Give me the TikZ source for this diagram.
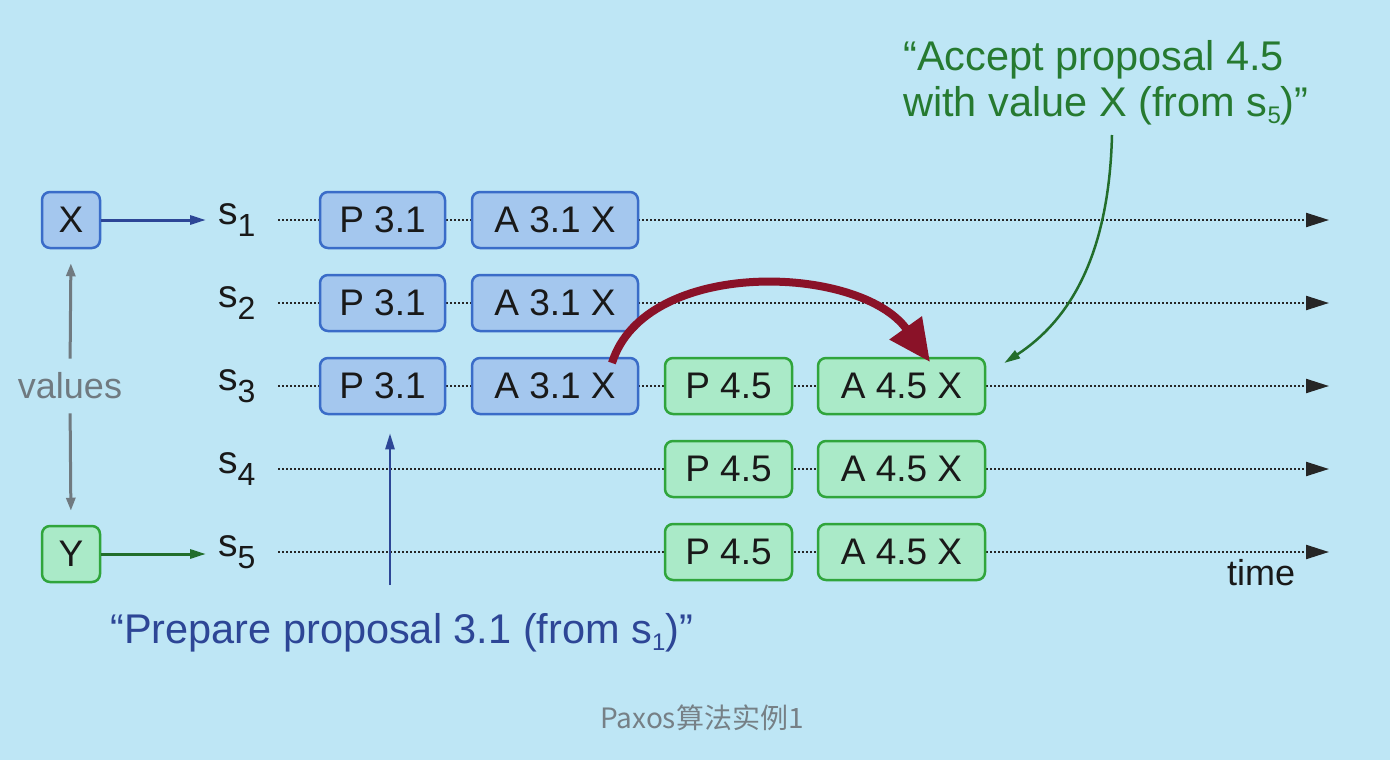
\documentclass[tikz,border=0pt]{standalone}
\usepackage{fontspec}
\setmainfont{Liberation Sans}
\newfontfamily\cjk{Noto Sans CJK SC}
\usetikzlibrary{arrows.meta}
\definecolor{bg}{RGB}{190,230,245}
\definecolor{bfill}{RGB}{164,199,238}
\definecolor{bborder}{RGB}{58,108,200}
\definecolor{gfill}{RGB}{170,234,200}
\definecolor{gborder}{RGB}{48,165,60}
\definecolor{btext}{RGB}{45,70,150}
\definecolor{gtext}{RGB}{38,122,48}
\definecolor{darkred}{RGB}{138,18,40}
\definecolor{valgray}{RGB}{112,122,128}
\definecolor{capgray}{RGB}{118,128,134}
\newcommand\ssub[1]{s\raisebox{-12pt}{\fontsize{32}{32}\selectfont #1}}
\newcommand\tsub[1]{\raisebox{-7pt}{\fontsize{24}{24}\selectfont #1}}
\begin{document}
\begin{tikzpicture}[x=1pt,y=-1pt,
  boxbase/.style={line width=2.5pt, rounded corners=8pt, minimum height=56pt,
    inner sep=0pt, text=black!90, font=\fontsize{37}{40}\selectfont},
  bbox/.style={boxbase, draw=bborder, fill=bfill},
  gbox/.style={boxbase, draw=gborder, fill=gfill},
  slab/.style={anchor=base west, inner sep=0pt, text=black!90, font=\fontsize{39}{40}\selectfont},
  timeline/.style={line width=2.2pt, dash pattern=on 2pt off 2pt, black!85,
    -{Triangle[length=23pt,width=14pt]}},
  vgarrow/.style={line width=3pt, valgray, -{Triangle[length=13pt,width=9pt]}},
  barrow/.style={line width=3pt, btext, -{Triangle[length=16pt,width=9pt]}},
  garrow/.style={line width=3pt, gtext!90!black, -{Triangle[length=16pt,width=9pt]}},
  redarrow/.style={line width=8pt, darkred, -{Triangle[length=42pt,width=38pt]}},
]
\fill[bg] (0,0) rectangle (1390,760);
\useasboundingbox (0,0) rectangle (1390,760);

% timelines
\foreach \r/\y in {1/220,2/303,3/386,4/469,5/552}{
  \coordinate (t\r) at (278,\y);
  \coordinate (e\r) at (1329,\y);
  \draw[timeline] (t\r) -- (e\r);
}

% value boxes
\node[bbox, minimum width=58pt] (vx) at (71,220) {X};
\node[gbox, minimum width=58pt] (vy) at (71,554) {Y};
\node[text=valgray, font=\fontsize{36}{40}\selectfont, inner sep=0pt] (vals) at (70,386) {values};
\draw[vgarrow, shorten <=14pt, shorten >=14pt] (vals.north) -- (vx.south);
\draw[vgarrow, shorten <=14pt, shorten >=14pt] (vals.south) -- (vy.north);

% server labels
\node[slab] (s1) at (218,224) {\ssub{1}};
\node[slab] (s2) at (218,307) {\ssub{2}};
\node[slab] (s3) at (218,390) {\ssub{3}};
\node[slab] (s4) at (218,473) {\ssub{4}};
\node[slab] (s5) at (218,556) {\ssub{5}};

\draw[barrow] (vx.east) -- ([xshift=-12pt]s1.west |- vx.east);
\draw[garrow] (vy.east) -- ([xshift=-12pt]s5.west |- vy.east);

% proposal boxes
\foreach \r/\y in {1/220,2/303,3/386}{
  \node[bbox, minimum width=125pt] (p\r) at (382.5,\y) {P 3.1};
  \node[bbox, minimum width=166pt] (a\r) at (555,\y) {A 3.1 X};
}
\foreach \r/\y in {3/386,4/469,5/552}{
  \node[gbox, minimum width=127pt] (q\r) at (728.5,\y) {P 4.5};
  \node[gbox, minimum width=167pt] (b\r) at (901.5,\y) {A 4.5 X};
}

% red arc
\draw[redarrow] ([xshift=57pt,yshift=23pt]a3.center)
  .. controls (645,257) and (860,264) .. ([xshift=28.5pt,yshift=24pt]b3.center);

% time label
\node[anchor=base west, inner sep=0pt, text=black!90, font=\fontsize{36}{40}\selectfont] (time) at (1227,585) {time};

% prepare annotation
\node[anchor=base west, inner sep=0pt, text=btext, font=\fontsize{41.5}{44}\selectfont] (prep) at (110,643)
  {“Prepare proposal 3.1 (from s\tsub{1})”};
\coordinate (pa) at (390,585);
\draw[barrow, line width=2.5pt] (pa) -- ([xshift=7.5pt,yshift=-18pt]p3.south);

% accept annotation
\node[anchor=north west, inner sep=0pt, align=left, text=gtext, font=\fontsize{41.5}{46}\selectfont] (acc) at (903,40)
  {“Accept proposal 4.5\\with value X (from s\tsub{5})”};
\coordinate (ga) at (1112,135);
\draw[garrow, line width=2.5pt] (ga) .. controls (1109,255) and (1070,320) .. ([xshift=18pt,yshift=23pt]b3.east);

% caption
\node[text=capgray, font=\cjk\fontsize{28}{30}\selectfont, inner sep=0pt] (cap) at (702,718) {Paxos算法实例1};
\end{tikzpicture}
\end{document}
